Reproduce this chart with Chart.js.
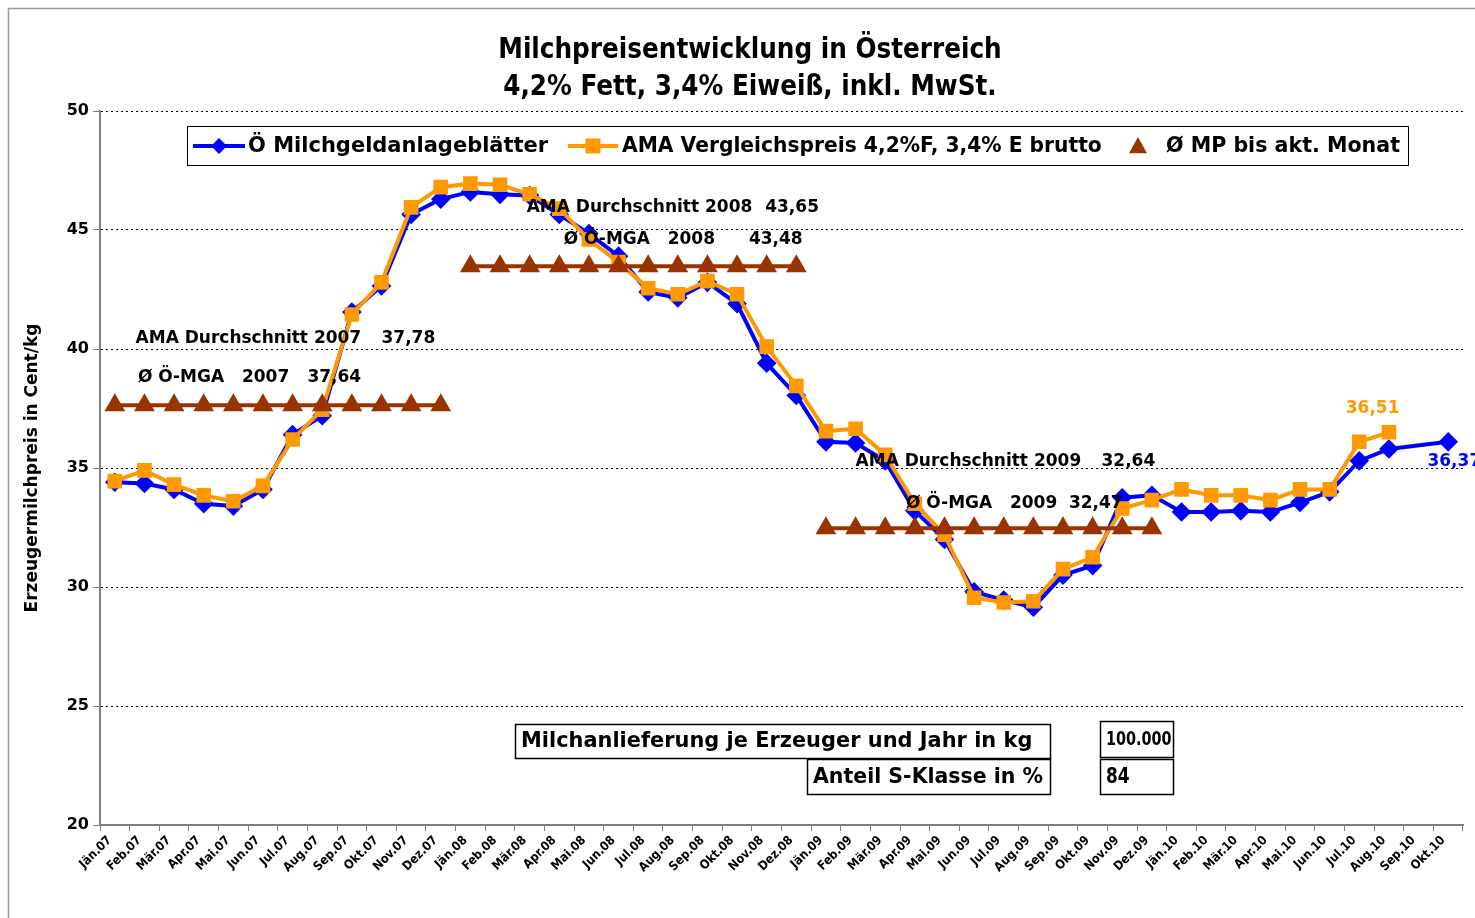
<!DOCTYPE html>
<html>
<head>
<meta charset="utf-8">
<title>Milchpreisentwicklung in Österreich</title>
<script src="https://cdn.jsdelivr.net/npm/chart.js@4/dist/chart.umd.min.js"></script>
<style>
  body { margin: 0; background: #fff; }
  canvas { display: block; }
</style>
</head>
<body>
<canvas id="milkChart" width="1475" height="918"></canvas>
<script>
'use strict';

// Monate Jän.07 - Okt.10
var months = [
  'Jän.07', 'Feb.07', 'Mär.07', 'Apr.07', 'Mai.07', 'Jun.07', 'Jul.07', 'Aug.07', 'Sep.07', 'Okt.07', 'Nov.07', 'Dez.07',
  'Jän.08', 'Feb.08', 'Mär.08', 'Apr.08', 'Mai.08', 'Jun.08', 'Jul.08', 'Aug.08', 'Sep.08', 'Okt.08', 'Nov.08', 'Dez.08',
  'Jän.09', 'Feb.09', 'Mär.09', 'Apr.09', 'Mai.09', 'Jun.09', 'Jul.09', 'Aug.09', 'Sep.09', 'Okt.09', 'Nov.09', 'Dez.09',
  'Jän.10', 'Feb.10', 'Mär.10', 'Apr.10', 'Mai.10', 'Jun.10', 'Jul.10', 'Aug.10', 'Sep.10', 'Okt.10'
];

// Ö Milchgeldanlageblätter
var mgaValues = [
  34.4, 34.35, 34.1, 33.5, 33.4, 34.1, 36.4, 37.2, 41.55, 42.65, 45.65, 46.3,
  46.6, 46.5, 46.45, 45.65, 44.85, 43.9, 42.4, 42.15, 42.8, 41.9, 39.4, 38.05,
  36.1, 36.05, 35.3, 33.2, 32.0, 29.8, 29.45, 29.15, 30.5, 30.9, 33.75, 33.85,
  33.15, 33.15, 33.2, 33.15, 33.55, 34.0, 35.3, 35.8, null, 36.1
];

// AMA Vergleichspreis 4,2%F, 3,4% E brutto
var amaValues = [
  34.45, 34.9, 34.3, 33.85, 33.6, 34.25, 36.2, 37.45, 41.45, 42.8, 45.95, 46.8,
  46.95, 46.9, 46.5, 45.9, 44.6, 43.65, 42.55, 42.3, 42.85, 42.3, 40.1, 38.45,
  36.55, 36.65, 35.55, 33.5, 32.2, 29.55, 29.35, 29.4, 30.75, 31.25, 33.3, 33.65,
  34.1, 33.85, 33.85, 33.65, 34.1, 34.1, 36.1, 36.5, null, null
];

// Ø MP bis akt. Monat (Jahresdurchschnitt Ö-MGA)
var avgValues = [
  37.64, 37.64, 37.64, 37.64, 37.64, 37.64, 37.64, 37.64, 37.64, 37.64, 37.64, 37.64,
  43.48, 43.48, 43.48, 43.48, 43.48, 43.48, 43.48, 43.48, 43.48, 43.48, 43.48, 43.48,
  32.47, 32.47, 32.47, 32.47, 32.47, 32.47, 32.47, 32.47, 32.47, 32.47, 32.47, 32.47,
  null, null, null, null, null, null, null, null, null, null
];

var seriesNames = ['Ö Milchgeldanlageblätter', 'AMA Vergleichspreis 4,2%F, 3,4% E brutto', 'Ø MP bis akt. Monat'];
var yTicks = [20, 25, 30, 35, 40, 45, 50];

var titleLines = ['Milchpreisentwicklung in Österreich', '4,2% Fett, 3,4% Eiweiß, inkl. MwSt.'];

var FONT = "'DejaVu Sans', sans-serif";
var FONT_COND = "'DejaVu Sans Condensed', 'DejaVu Sans', sans-serif";
var BLUE = '#0000FF';
var ORANGE = '#FF9900';
var BROWN = '#993300';

// text notes, anchored at category index / value
var notes = [
  { text: 'AMA Durchschnitt 2007', i: 0.7, v: 40.45 },
  { text: '37,78', i: 9.0, v: 40.45 },
  { text: 'Ø Ö-MGA   2007', i: 0.78, v: 38.8 },
  { text: '37,64', i: 6.5, v: 38.8 },
  { text: 'AMA Durchschnitt 2008', i: 13.9, v: 45.95 },
  { text: '43,65', i: 21.95, v: 45.95 },
  { text: 'Ø Ö-MGA   2008', i: 15.15, v: 44.6 },
  { text: '43,48', i: 21.4, v: 44.6 },
  { text: 'AMA Durchschnitt 2009', i: 25.0, v: 35.25 },
  { text: '32,64', i: 33.3, v: 35.25 },
  { text: 'Ø Ö-MGA   2009', i: 26.7, v: 33.5 },
  { text: '32,47', i: 32.2, v: 33.5 },
  { text: '36,51', i: 42.45, v: 37.5, color: ORANGE, align: 'center' },
  { text: '36,37', i: 44.3, v: 35.25, color: BLUE }
];

function drawMarker(ctx, style, x, y, r, color) {
  ctx.save();
  ctx.fillStyle = color;
  ctx.beginPath();
  if (style === 'rectRot') {
    ctx.moveTo(x, y - r); ctx.lineTo(x + r, y); ctx.lineTo(x, y + r); ctx.lineTo(x - r, y);
  } else if (style === 'rect') {
    ctx.rect(x - r, y - r, 2 * r, 2 * r);
  } else {
    ctx.moveTo(x, y - r); ctx.lineTo(x + r, y + r * 0.8); ctx.lineTo(x - r, y + r * 0.8);
  }
  ctx.closePath();
  ctx.fill();
  ctx.restore();
}

var overlayPlugin = {
  id: 'overlay',
  beforeDraw: function (chart) {
    var ctx = chart.ctx;
    ctx.save();
    ctx.fillStyle = '#fff';
    ctx.fillRect(0, 0, chart.width, chart.height);
    ctx.strokeStyle = '#9a9a9a';
    ctx.lineWidth = 1.5;
    ctx.strokeRect(8.5, 8.5, chart.width, chart.height);

    // title
    ctx.fillStyle = '#000';
    ctx.textAlign = 'center';
    ctx.textBaseline = 'middle';
    ctx.font = 'bold 27.5px ' + FONT_COND;
    ctx.fillText(titleLines[0], 750, 51);
    ctx.fillText(titleLines[1], 750, 88);
    ctx.restore();
  },
  afterDraw: function (chart) {
    var ctx = chart.ctx;
    var xs = chart.scales.x;
    var ys = chart.scales.y;
    ctx.save();

    // notes
    ctx.textBaseline = 'middle';
    notes.forEach(function (n) {
      var px = xs.left + (n.i + 0.5) * (xs.width / months.length);
      ctx.font = 'bold 17px ' + FONT;
      ctx.fillStyle = n.color || '#000';
      ctx.textAlign = n.align || 'left';
      ctx.fillText(n.text, px, ys.getPixelForValue(n.v));
    });

    // legend box
    ctx.fillStyle = '#fff';
    ctx.fillRect(187, 126, 1221, 39);
    ctx.strokeStyle = '#000';
    ctx.lineWidth = 1;
    ctx.strokeRect(187.5, 126.5, 1221, 39);
    var ly = 146;
    var items = [
      { x: 193, w: 52, tx: 248, style: 'rectRot', r: 8, line: true, sx: 1.0 },
      { x: 568, w: 50, tx: 622, style: 'rect', r: 7.5, line: true, sx: 0.965 },
      { x: 1125, w: 26, tx: 1166, style: 'triangle', r: 9, line: false, sx: 0.98 }
    ];
    chart.data.datasets.forEach(function (ds, k) {
      var it = items[k];
      if (it.line) {
        ctx.strokeStyle = ds.borderColor;
        ctx.lineWidth = 4;
        ctx.beginPath();
        ctx.moveTo(it.x, ly);
        ctx.lineTo(it.x + it.w, ly);
        ctx.stroke();
      }
      drawMarker(ctx, it.style, it.x + it.w / 2, ly, it.r, ds.pointBackgroundColor);
      ctx.save();
      ctx.translate(it.tx, ly + 1);
      ctx.scale(it.sx, 1);
      ctx.font = 'bold 21px ' + FONT;
      ctx.fillStyle = '#000';
      ctx.textAlign = 'left';
      ctx.fillText(ds.label, 0, 0);
      ctx.restore();
    });

    // info boxes
    var boxes = [
      { x: 515, y: 724, w: 535, h: 34, t: 'Milchanlieferung je Erzeuger und Jahr in kg', f: 'bold 20.5px ' + FONT, sx: 1.02 },
      { x: 1100, y: 721, w: 73, h: 36, t: '100.000', f: 'bold 20px ' + FONT_COND, sx: 0.8 },
      { x: 807, y: 759, w: 243, h: 35, t: 'Anteil S-Klasse in %', f: 'bold 20.5px ' + FONT, sx: 1 },
      { x: 1100, y: 759, w: 73, h: 35, t: '84', f: 'bold 21px ' + FONT_COND, sx: 0.9 }
    ];
    boxes.forEach(function (b) {
      ctx.fillStyle = '#fff';
      ctx.fillRect(b.x, b.y, b.w, b.h);
      ctx.strokeStyle = '#000';
      ctx.lineWidth = 1.5;
      ctx.strokeRect(b.x + 0.5, b.y + 0.5, b.w, b.h);
      ctx.save();
      ctx.translate(b.x + 6, b.y + b.h / 2 + 1);
      ctx.scale(b.sx, 1);
      ctx.font = b.f;
      ctx.fillStyle = '#000';
      ctx.textAlign = 'left';
      ctx.fillText(b.t, 0, 0);
      ctx.restore();
    });
    ctx.restore();
  }
};

var ctx = document.getElementById('milkChart').getContext('2d');

var chart = new Chart(ctx, {
  type: 'line',
  data: {
    labels: months,
    datasets: [
      {
        label: seriesNames[0],
        data: mgaValues,
        borderColor: BLUE,
        backgroundColor: BLUE,
        pointBackgroundColor: BLUE,
        pointBorderColor: BLUE,
        borderWidth: 4,
        pointStyle: 'rectRot',
        pointRadius: 7,
        spanGaps: true,
        order: 3
      },
      {
        label: seriesNames[1],
        data: amaValues,
        borderColor: ORANGE,
        backgroundColor: ORANGE,
        pointBackgroundColor: ORANGE,
        pointBorderColor: ORANGE,
        borderWidth: 4,
        pointStyle: 'rect',
        pointRadius: 7.5,
        order: 2
      },
      {
        label: seriesNames[2],
        data: avgValues,
        borderColor: BROWN,
        backgroundColor: BROWN,
        pointBackgroundColor: BROWN,
        pointBorderColor: BROWN,
        borderWidth: 4,
        pointStyle: 'triangle',
        pointRadius: 8,
        order: 1,
        segment: {
          // no connection between the yearly averages
          borderColor: function (c) { return c.p0DataIndex % 12 === 11 ? 'rgba(0,0,0,0)' : undefined; }
        }
      }
    ]
  },
  options: {
    responsive: false,
    animation: false,
    devicePixelRatio: 1,
    layout: { padding: { left: 8, right: 6, top: 111, bottom: 0 } },
    plugins: {
      legend: { display: false },
      tooltip: { enabled: false },
      title: { display: false }
    },
    scales: {
      x: {
        offset: true,
        grid: {
          offset: true,
          drawOnChartArea: false,
          tickColor: '#808080',
          tickLength: 6
        },
        border: { color: '#808080', width: 2 },
        ticks: {
          autoSkip: false,
          maxRotation: 45,
          minRotation: 45,
          color: '#000',
          padding: 2,
          labelOffset: -5,
          font: { family: FONT_COND, size: 12.5, weight: 'bold' }
        },
        afterFit: function (scale) { scale.height = 93; }
      },
      y: {
        min: 20,
        max: 50,
        afterBuildTicks: function (scale) {
          scale.ticks = yTicks.map(function (v) { return { value: v }; });
        },
        grid: {
          color: function (c) { return c.tick && c.tick.value === 20 ? 'rgba(0,0,0,0)' : '#000'; },
          lineWidth: 1,
          tickColor: '#808080',
          tickBorderDash: [],
          tickLength: 7
        },
        border: { color: '#808080', width: 2, dash: [2, 3] },
        ticks: {
          color: '#000',
          padding: 4,
          font: { family: FONT, size: 16, weight: 'bold' }
        },
        title: {
          display: true,
          text: 'Erzeugermilchpreis in Cent/kg',
          color: '#000',
          font: { family: FONT, size: 17, weight: 'bold' },
          padding: { top: 14, bottom: 0 }
        },
        afterFit: function (scale) { scale.width = 92; }
      }
    }
  },
  plugins: [overlayPlugin]
});
</script>
</body>
</html>
